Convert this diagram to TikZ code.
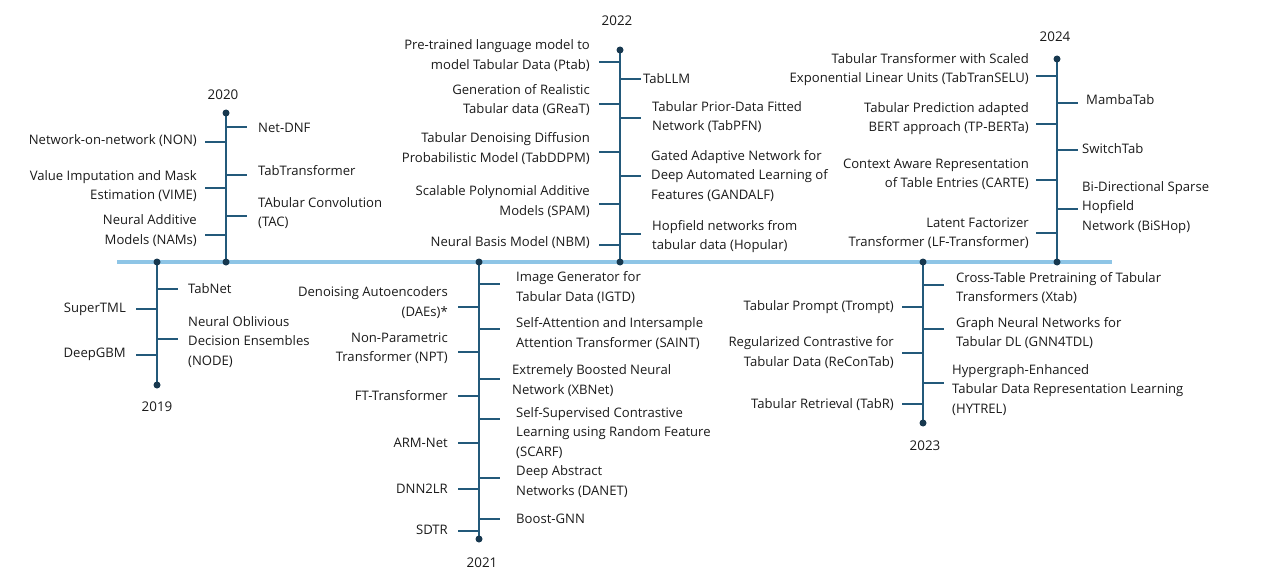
\documentclass[tikz,border=0pt]{standalone}
\usepackage{fontspec}
\setmainfont{Open Sans}
\definecolor{vcol}{HTML}{23597A}
\definecolor{dcol}{HTML}{17384F}
\definecolor{hcol}{HTML}{8EC5E6}
\definecolor{tcol}{HTML}{1A1A1A}
\tikzset{
  lbl/.style={inner sep=0pt,text=tcol,font=\fontsize{13.1}{19.3}\selectfont},
  yearlbl/.style={inner sep=0pt,text=tcol,font=\fontsize{13.4}{19.3}\selectfont},
  vline/.style={draw=vcol,line width=2.6pt},
  tickline/.style={draw=vcol,line width=2.3pt},
  hline/.style={draw=hcol,line width=3.6pt},
  dotnode/.style={circle,fill=dcol,inner sep=0pt,minimum size=7pt}
}
% left item: name, xline, ytick, ytext, xend, text
\newcommand\Litem[6]{%
  \coordinate (#1a) at (#2,#3);
  \coordinate (#1b) at (#2-21,#3);
  \draw[tickline] (#1a) -- (#1b);
  \node[lbl,anchor=east,align=right] (#1) at (#5,#4) {#6};
}
% right item: name, xline, ytick, ytext, xstart, text
\newcommand\Ritem[6]{%
  \coordinate (#1a) at (#2,#3);
  \coordinate (#1b) at (#2+21,#3);
  \draw[tickline] (#1a) -- (#1b);
  \node[lbl,anchor=west,align=left] (#1) at (#5,#4) {#6};
}
\begin{document}
\begin{tikzpicture}[x=1pt,y=-1pt]
\useasboundingbox (0,0) rectangle (1277,583);
% main axis
\coordinate (hstart) at (117,262);
\coordinate (hend) at (1112,262);
\draw[hline] (hstart) -- (hend);
% year stems
\coordinate (s19a) at (157,262); \coordinate (s19b) at (157,385);
\coordinate (s20a) at (226,262); \coordinate (s20b) at (226,113);
\coordinate (s21a) at (479,262); \coordinate (s21b) at (479,539);
\coordinate (s22a) at (620,262); \coordinate (s22b) at (620,50);
\coordinate (s23a) at (923,262); \coordinate (s23b) at (923,423);
\coordinate (s24a) at (1057,262); \coordinate (s24b) at (1057,59);
\foreach \s in {19,20,21,22,23,24}{\draw[vline] (s\s a) -- (s\s b);}
% 2019
\Ritem{tabnet}{157}{289}{289}{188}{TabNet}
\Litem{supertml}{157}{309}{309}{126}{SuperTML}
\Ritem{node}{157}{339}{342}{188}{Neural Oblivious\\Decision Ensembles\\(NODE)}
\Litem{deepgbm}{157}{355}{354}{126}{DeepGBM}
% 2020
\Ritem{netdnf}{226}{127}{128}{258}{Net-DNF}
\Litem{non}{226}{142}{141}{197}{Network-on-network (NON)}
\Ritem{tabtr}{226}{175}{171}{258}{TabTransformer}
\Litem{vime}{226}{188}{186}{197}{Value Imputation and Mask\\Estimation (VIME)}
\Ritem{tac}{226}{216}{213}{258}{TAbular Convolution\\(TAC)}
\Litem{nams}{226}{235}{230.5}{197}{Neural Additive\\Models (NAMs)}
% 2021
\Ritem{igtd}{479}{284}{287.5}{516}{Image Generator for\\Tabular Data (IGTD)}
\Ritem{saint}{479}{329}{333.5}{516}{Self-Attention and Intersample\\Attention Transformer (SAINT)}
\Ritem{xbnet}{479}{379}{380.5}{512}{Extremely Boosted Neural\\Network (XBNet)}
\Ritem{scarf}{479}{419}{433}{516}{Self-Supervised Contrastive\\Learning using Random Feature\\(SCARF)}
\Ritem{danet}{479}{478}{481.5}{516}{Deep Abstract\\Networks (DANET)}
\Ritem{boostgnn}{479}{519}{519}{516}{Boost-GNN}
\Litem{daes}{479}{307}{302.5}{448}{Denoising Autoencoders\\(DAEs)*}
\Litem{npt}{479}{352}{348.5}{448}{Non-Parametric\\Transformer (NPT)}
\Litem{ft}{479}{396}{396}{448}{FT-Transformer}
\Litem{arm}{479}{443}{443}{448}{ARM-Net}
\Litem{dnn2lr}{479}{489}{489}{448}{DNN2LR}
\Litem{sdtr}{479}{531}{530}{448}{SDTR}
% 2022
\Litem{ptab}{620}{62}{55.5}{590}{Pre-trained language model to\\model Tabular Data (Ptab)}
\Litem{great}{620}{104}{100}{590}{Generation of Realistic\\Tabular data (GReaT)}
\Litem{tabddpm}{620}{152}{148.5}{590}{Tabular Denoising Diffusion\\Probabilistic Model (TabDDPM)}
\Litem{spam}{620}{204}{201.5}{590}{Scalable Polynomial Additive\\Models (SPAM)}
\Litem{nbm}{620}{245}{243}{590}{Neural Basis Model (NBM)}
\Ritem{tabllm}{620}{79}{79}{643}{TabLLM}
\Ritem{tabpfn}{620}{118}{117}{652}{Tabular Prior-Data Fitted\\Network (TabPFN)}
\Ritem{gandalf}{620}{176}{176}{651}{Gated Adaptive Network for\\Deep Automated Learning of\\Features (GANDALF)}
\Ritem{hopular}{620}{234}{236.5}{652}{Hopfield networks from\\tabular data (Hopular)}
% 2023
\Ritem{xtab}{923}{285}{288}{956}{Cross-Table Pretraining of Tabular\\Transformers (Xtab)}
\Ritem{gnn4tdl}{923}{329}{333}{956}{Graph Neural Networks for\\Tabular DL (GNN4TDL)}
\Ritem{hytrel}{923}{383}{390}{952}{Hypergraph-Enhanced\\Tabular Data Representation Learning\\(HYTREL)}
\Litem{trompt}{923}{307}{307}{894}{Tabular Prompt (Trompt)}
\Litem{recontab}{923}{353}{352.5}{894}{Regularized Contrastive for\\Tabular Data (ReConTab)}
\Litem{tabr}{923}{404}{405}{894}{Tabular Retrieval (TabR)}
% 2024
\Litem{selu}{1057}{76}{69.5}{1029}{Tabular Transformer with Scaled\\Exponential Linear Units (TabTranSELU)}
\Litem{tpberta}{1057}{124}{118.5}{1029}{Tabular Prediction adapted\\BERT approach (TP-BERTa)}
\Litem{carte}{1057}{180}{174.5}{1029}{Context Aware Representation\\of Table Entries (CARTE)}
\Litem{lf}{1057}{233}{233.5}{1029}{Latent Factorizer\\Transformer (LF-Transformer)}
\Ritem{mamba}{1057}{103}{100}{1086}{MambaTab}
\Ritem{switch}{1057}{150}{149}{1082}{SwitchTab}
\Ritem{bishop}{1057}{209}{207.5}{1082}{Bi-Directional Sparse\\Hopfield\\Network (BiSHop)}
% dots
\foreach \s in {19,20,21,22,23,24}{
  \node[dotnode] (d\s a) at (s\s a) {};
  \node[dotnode] (d\s b) at (s\s b) {};
}
% year labels
\node[yearlbl] (y2019) at (157,407) {2019};
\node[yearlbl] (y2020) at (223,95) {2020};
\node[yearlbl] (y2021) at (482,563) {2021};
\node[yearlbl] (y2022) at (617,21) {2022};
\node[yearlbl] (y2023) at (925,446) {2023};
\node[yearlbl] (y2024) at (1055,37) {2024};
\end{tikzpicture}
\end{document}
